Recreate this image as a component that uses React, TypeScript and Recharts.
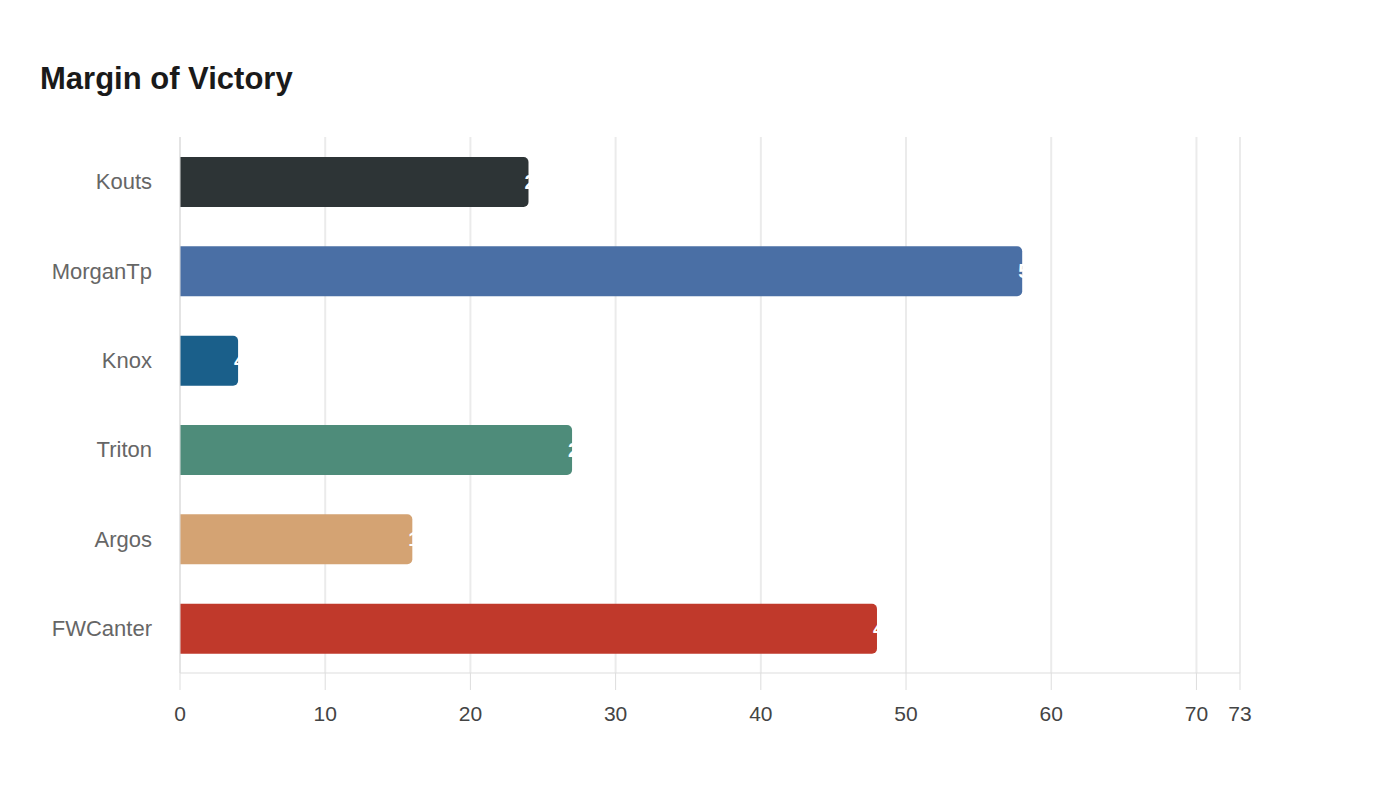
import { Bar, BarChart, CartesianGrid, Cell, LabelList, XAxis, YAxis } from "recharts"

const teams = ["Kouts", "MorganTp", "Knox", "Triton", "Argos", "FWCanter"]
const margins = [24, 58, 4, 27, 16, 48]
const barColors = ["#2d3436", "#4a6fa5", "#1a5f8a", "#4e8c7a", "#d4a373", "#c0392b"]
const xTicks = [0, 10, 20, 30, 40, 50, 60, 70, 73]

const data = teams.map((team, i) => ({ team, margin: margins[i] }))

const font = '"Liberation Sans", Arial, sans-serif'

export default function App() {
  return (
    <div
      style={{
        position: "absolute",
        left: 0,
        top: 0,
        width: 1400,
        height: 800,
        background: "#fff",
        fontFamily: font,
      }}
    >
      <div
        style={{
          position: "absolute",
          left: 40,
          top: 61,
          fontSize: 31,
          fontWeight: 700,
          color: "#1a1a1a",
          lineHeight: "36px",
        }}
      >
        Margin of Victory
      </div>
      <BarChart
        width={1400}
        height={800}
        data={data}
        layout="vertical"
        margin={{ top: 137, right: 160, bottom: 0, left: 0 }}
        barSize={50}
      >
        <CartesianGrid horizontal={false} stroke="#ebebeb" strokeWidth={2} />
        <XAxis
          type="number"
          domain={[0, 73]}
          ticks={xTicks}
          interval={0}
          stroke="#dddddd"
          tickSize={17}
          tickMargin={16}
          tick={{ fill: "#444", fontSize: 21, fontFamily: font }}
          height={127}
        />
        <YAxis
          type="category"
          dataKey="team"
          width={180}
          stroke="#dddddd"
          tickLine={false}
          tickMargin={22}
          tick={{ fill: "#666", fontSize: 22, fontFamily: font }}
        />
        <Bar dataKey="margin" radius={[0, 5, 5, 0]} isAnimationActive={false}>
          {data.map((d, i) => (
            <Cell key={d.team} fill={barColors[i]} />
          ))}
          <LabelList
            dataKey="margin"
            position="right"
            offset={-4}
            fill="#fff"
            style={{ fontSize: 20, fontWeight: 700, fontFamily: font }}
          />
        </Bar>
      </BarChart>
    </div>
  )
}
